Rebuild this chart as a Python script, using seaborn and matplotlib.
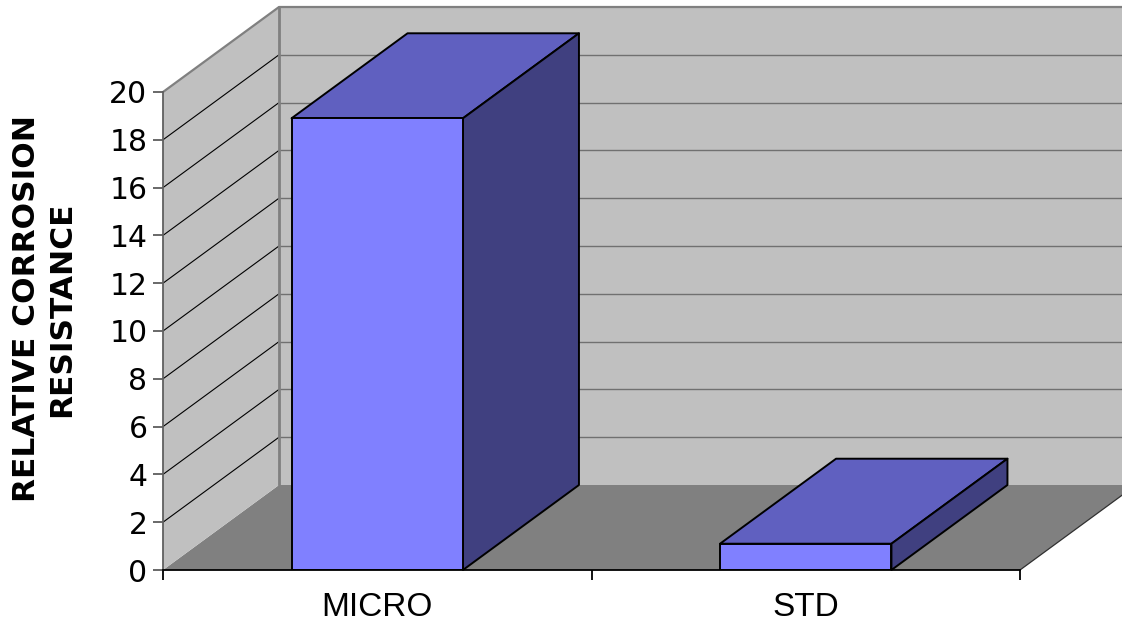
import matplotlib
matplotlib.use("Agg")
import matplotlib.pyplot as plt
import seaborn as sns

# Data
categories = ["MICRO", "STD"]
values = [18.9, 1.1]
y_ticks = [0, 2, 4, 6, 8, 10, 12, 14, 16, 18, 20]

sns.set_theme(style="white")
plt.rcParams["font.family"] = ["Liberation Sans", "DejaVu Sans"]
plt.rcParams["text.color"] = "black"
plt.rcParams["xtick.labelcolor"] = "black"
plt.rcParams["ytick.labelcolor"] = "black"

W, H = 1122, 623
fig = plt.figure(figsize=(W / 100, H / 100), dpi=100)
fig.patch.set_facecolor("white")

# Front plane of the 3-D box
left_px, right_px, top_px, bottom_px = 163, 1020, 92, 570
ax = fig.add_axes([left_px / W, 1 - bottom_px / H,
                   (right_px - left_px) / W, (bottom_px - top_px) / H])
ax.patch.set_visible(False)
ax.set_xlim(-0.5, 1.5)
ax.set_ylim(0, 20)

# Depth offset of the box in data units
px_x = (right_px - left_px) / 2.0
px_y = (bottom_px - top_px) / 20.0
dx = 116 / px_x
dy = 85 / px_y

x0, x1, ytop = -0.5, 1.5, 20

wall = "#C0C0C0"
floor = "#808080"
edge_gray = "#808080"

# Floor
ax.fill([x0, x1, x1 + dx, x0 + dx], [0, 0, dy, dy], color=floor,
        lw=0, clip_on=False, zorder=0.1)
# Left side wall
ax.fill([x0, x0, x0 + dx, x0 + dx], [0, ytop, ytop + dy, dy], color=wall,
        lw=0, clip_on=False, zorder=0.1)
# Back wall
ax.fill([x0 + dx, x0 + dx, x1 + dx, x1 + dx], [dy, ytop + dy, ytop + dy, dy],
        color=wall, lw=0, clip_on=False, zorder=0.05)

# Gridlines on walls
for v in y_ticks[1:-1]:
    ax.plot([x0, x0 + dx], [v, v + dy], color="black", lw=0.8,
            clip_on=False, zorder=0.3)
    ax.plot([x0 + dx, x1 + dx], [v + dy, v + dy], color="#707070", lw=1.0,
            clip_on=False, zorder=0.3)

# Wall edges
ax.plot([x0, x0 + dx, x1 + dx], [ytop, ytop + dy, ytop + dy], color=edge_gray,
        lw=1.6, clip_on=False, zorder=0.4)
ax.plot([x0 + dx, x0 + dx], [dy, ytop + dy], color=edge_gray, lw=2.0,
        clip_on=False, zorder=0.4)
ax.plot([x1, x1 + dx], [0, dy], color="#303030", lw=0.9,
        clip_on=False, zorder=0.4)

# Front faces of the bars
bar_w = 0.40
sns.barplot(x=categories, y=values, ax=ax, color="#8080FF", saturation=1,
            width=bar_w, edgecolor="black", linewidth=1.4, zorder=3)

# Top and side faces of the bars
hw = bar_w / 2
for i, v in enumerate(values):
    ax.fill([i - hw, i + hw, i + hw + dx, i - hw + dx],
            [v, v, v + dy, v + dy], facecolor="#6060C0", edgecolor="black",
            lw=1.4, clip_on=False, zorder=2, joinstyle="round")
    ax.fill([i + hw, i + hw, i + hw + dx, i + hw + dx],
            [0, v, v + dy, dy], facecolor="#404080", edgecolor="black",
            lw=1.4, clip_on=False, zorder=2, joinstyle="round")

# Axes lines and ticks
for s in ["top", "right"]:
    ax.spines[s].set_visible(False)
ax.spines["left"].set_color("#606060")
ax.spines["left"].set_linewidth(1.3)
ax.spines["bottom"].set_color("black")
ax.spines["bottom"].set_linewidth(1.3)
ax.spines["left"].set_zorder(4)
ax.spines["bottom"].set_zorder(4)

ax.set_yticks(y_ticks)
ax.set_yticklabels([str(t) for t in y_ticks], family=["DejaVu Sans"],
                   fontsize=21.5)
ax.tick_params(axis="y", direction="out", length=7.2, width=1.1,
               color="#404040", pad=4, left=True)
ax.set_xticks([x0, 0.5, x1], minor=True)
ax.tick_params(axis="x", which="minor", direction="out", length=7.2,
               width=1.3, color="black", bottom=True)
ax.tick_params(axis="x", which="major", length=0, labelsize=24, pad=16)
ax.set_xlabel("")
ax.set_ylabel("")

fig.text(44 / W, 1 - 309 / H, "RELATIVE CORROSION\nRESISTANCE",
         rotation=90, ha="center", va="center", fontsize=22.5,
         family=["DejaVu Sans"], fontweight="bold",
         linespacing=1.3, color="black")

fig.savefig("out.png", dpi=100, facecolor="white")
